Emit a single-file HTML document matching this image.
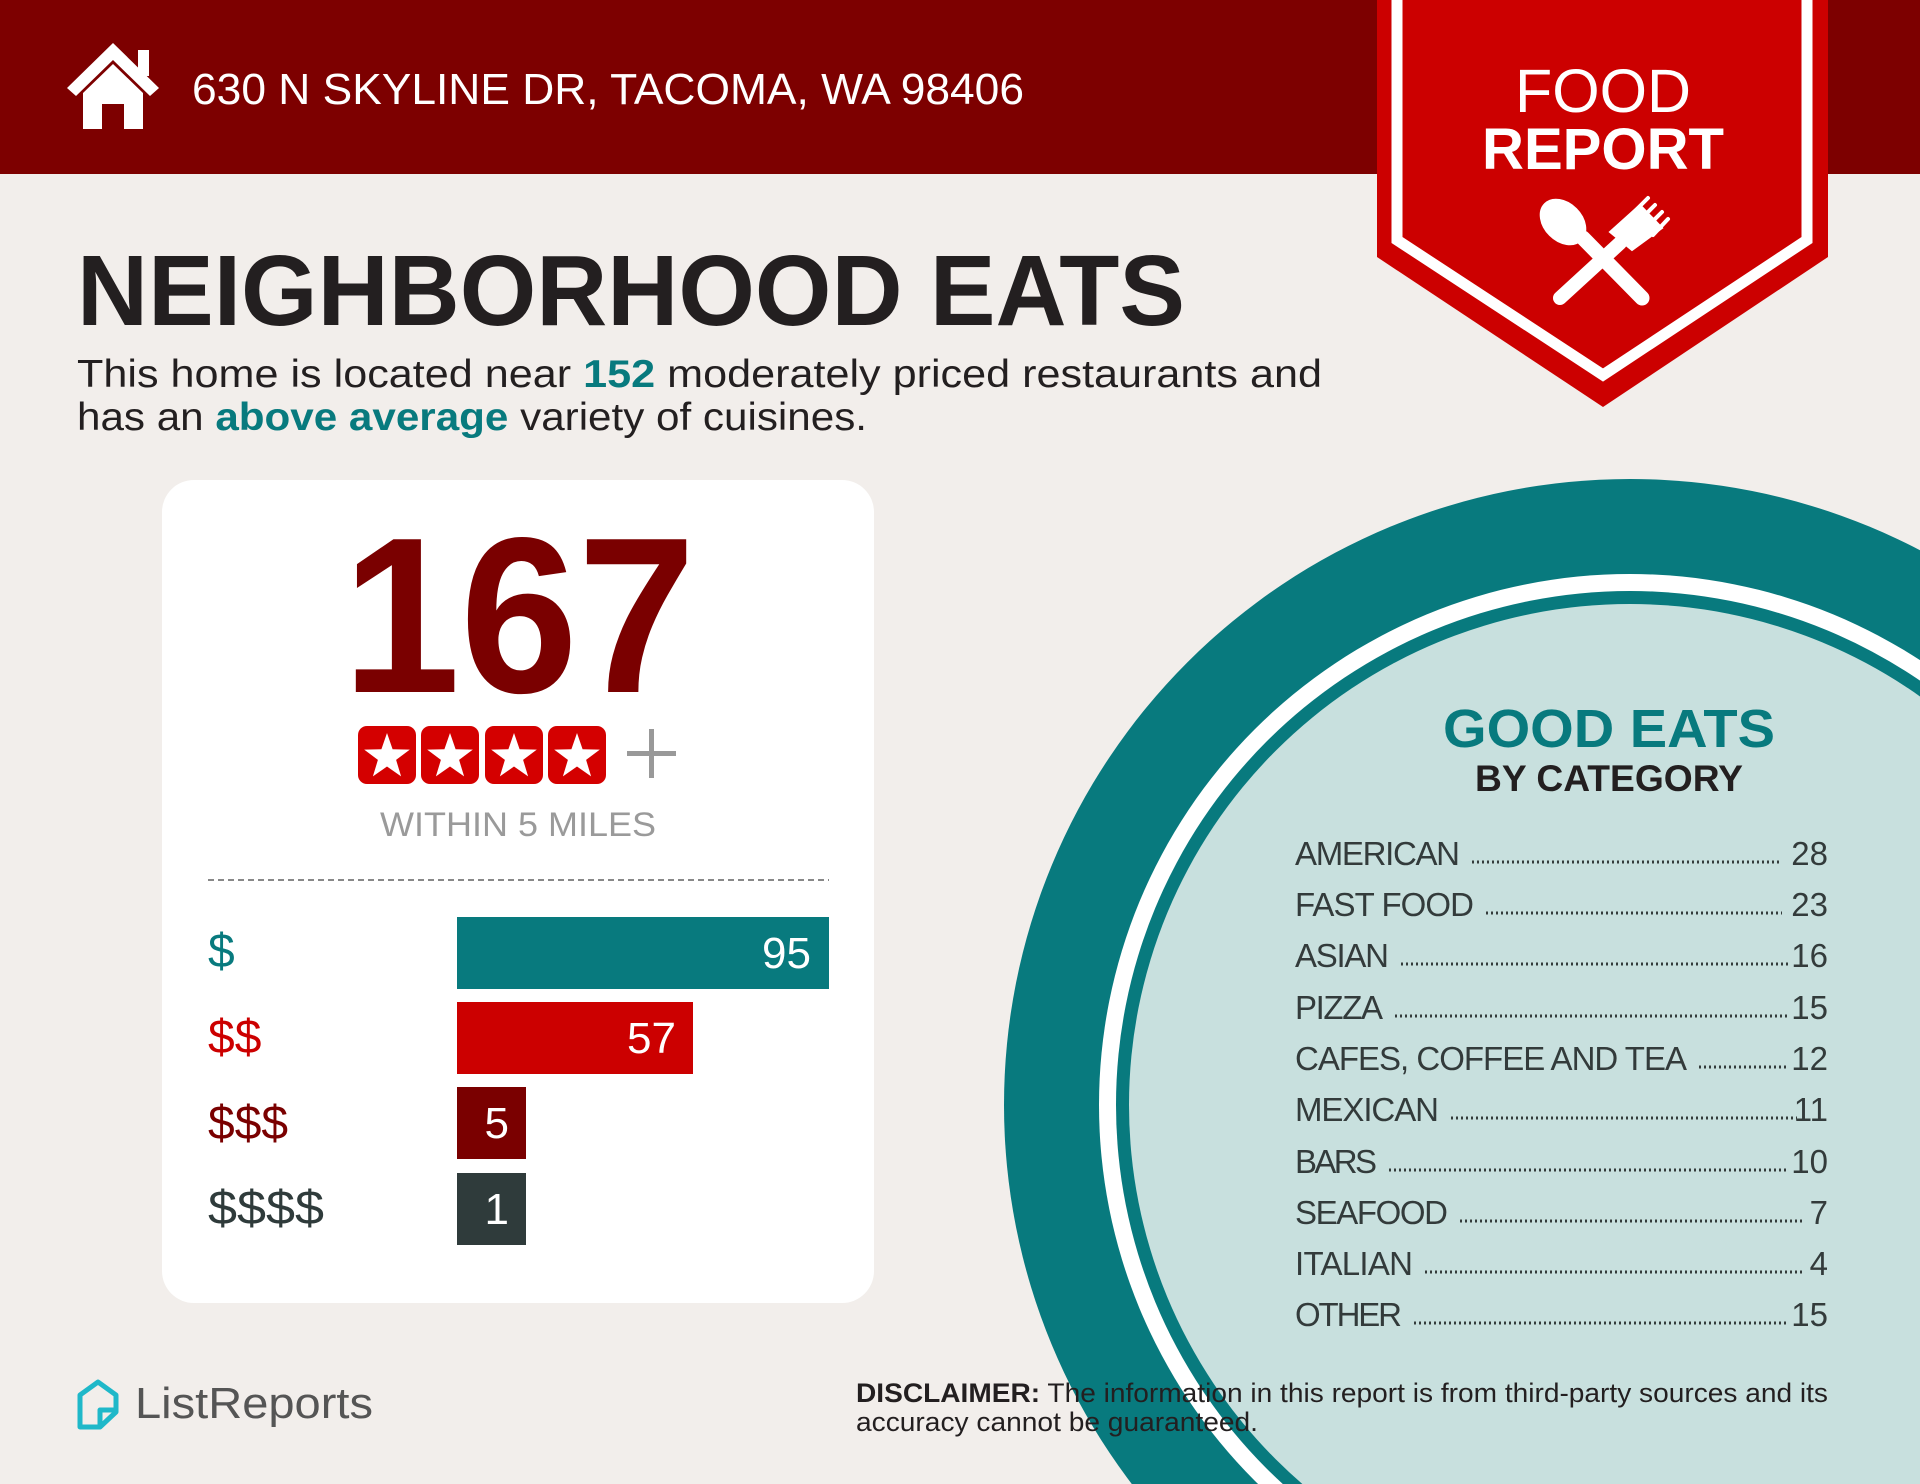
<!DOCTYPE html>
<html><head><meta charset="utf-8"><style>
html,body{margin:0;padding:0;background:#f2eeeb;width:1920px;height:1484px;overflow:hidden;}
svg{display:block;overflow:hidden;}
text{font-family:"Liberation Sans",sans-serif;}
</style></head><body>
<svg width="1920" height="1484" viewBox="0 0 1920 1484" overflow="hidden" xmlns="http://www.w3.org/2000/svg">
<defs><clipPath id="pg"><rect x="0" y="0" width="1920" height="1484"/></clipPath></defs>
<rect x="0" y="0" width="1920" height="1484" fill="#f2eeeb"/>
<g clip-path="url(#pg)">
<circle cx="1630" cy="1105" r="626" fill="#087a7e"/>
<circle cx="1630" cy="1105" r="531" fill="#ffffff"/>
<circle cx="1630" cy="1105" r="514" fill="#087a7e"/>
<circle cx="1630" cy="1105" r="501" fill="#c8e0de"/>
</g>
<rect x="0" y="0" width="1920" height="174" fill="#7d0000"/>
<g fill="#ffffff">
<polygon points="113,43 67,88 76,96 113,60 150,96 159,88"/>
<rect x="138" y="50" width="11" height="26"/>
<path d="M83,93 L113,64 L143,93 L143,129 L124,129 L124,104 L102,104 L102,129 L83,129 Z"/>
</g>
<text x="192" y="104" font-size="44" fill="#ffffff" textLength="832" lengthAdjust="spacingAndGlyphs">630 N SKYLINE DR, TACOMA, WA 98406</text>
<polygon points="1377,0 1828,0 1828,257 1603,407 1377,257" fill="#cc0000"/>
<polyline points="1397,0 1397,240 1603,375 1807,240 1807,0" fill="none" stroke="#ffffff" stroke-width="11"/>
<text x="1603" y="112" font-size="61" fill="#ffffff" text-anchor="middle" textLength="176" lengthAdjust="spacingAndGlyphs">FOOD</text>
<text x="1603" y="169" font-size="58" font-weight="bold" fill="#ffffff" text-anchor="middle" textLength="242" lengthAdjust="spacingAndGlyphs">REPORT</text>
<g stroke="#ffffff" stroke-linecap="round" fill="#ffffff">
<line x1="1642" y1="298" x2="1583" y2="238" stroke-width="15"/>
<ellipse cx="1563" cy="222" rx="19" ry="26" transform="rotate(-45 1563 222)"/>
<line x1="1560" y1="298" x2="1620" y2="243" stroke-width="14"/>
<path d="M1610,232 L1640,205 L1662,228 L1632,250 Z" stroke-width="2"/>
<line x1="1632" y1="214" x2="1648" y2="198" stroke-width="4"/>
<line x1="1639" y1="221" x2="1655" y2="205" stroke-width="4"/>
<line x1="1646" y1="228" x2="1662" y2="212" stroke-width="4"/>
<line x1="1653" y1="235" x2="1668" y2="219" stroke-width="4"/>
</g>
<text x="77" y="325" font-size="100" font-weight="bold" fill="#231f20" textLength="1108" lengthAdjust="spacingAndGlyphs">NEIGHBORHOOD EATS</text>
<text x="77" y="387" font-size="39" fill="#231f20" textLength="1245" lengthAdjust="spacingAndGlyphs">This home is located near <tspan fill="#087a7e" font-weight="bold">152</tspan> moderately priced restaurants and</text>
<text x="77" y="430" font-size="39" fill="#231f20" textLength="790" lengthAdjust="spacingAndGlyphs">has an <tspan fill="#087a7e" font-weight="bold">above average</tspan> variety of cuisines.</text>
<rect x="162" y="480" width="712" height="823" rx="32" fill="#ffffff"/>
<text x="519" y="692" font-size="222" font-weight="bold" fill="#7a0000" text-anchor="middle" textLength="353" lengthAdjust="spacingAndGlyphs">167</text>
<g>
<rect x="358" y="726" width="58" height="58" rx="9" fill="#d40000"/>
<rect x="421" y="726" width="58" height="58" rx="9" fill="#d40000"/>
<rect x="485" y="726" width="58" height="58" rx="9" fill="#d40000"/>
<rect x="548" y="726" width="58" height="58" rx="9" fill="#d40000"/>
<g fill="#ffffff">
<polygon transform="translate(387,757)" points="0,-24 5.6,-7.7 22.8,-7.4 9.1,2.9 14.1,19.4 0,9.5 -14.1,19.4 -9.1,2.9 -22.8,-7.4 -5.6,-7.7"/>
<polygon transform="translate(450,757)" points="0,-24 5.6,-7.7 22.8,-7.4 9.1,2.9 14.1,19.4 0,9.5 -14.1,19.4 -9.1,2.9 -22.8,-7.4 -5.6,-7.7"/>
<polygon transform="translate(514,757)" points="0,-24 5.6,-7.7 22.8,-7.4 9.1,2.9 14.1,19.4 0,9.5 -14.1,19.4 -9.1,2.9 -22.8,-7.4 -5.6,-7.7"/>
<polygon transform="translate(577,757)" points="0,-24 5.6,-7.7 22.8,-7.4 9.1,2.9 14.1,19.4 0,9.5 -14.1,19.4 -9.1,2.9 -22.8,-7.4 -5.6,-7.7"/>
</g>
<rect x="627" y="751" width="49" height="5" fill="#999"/>
<rect x="649" y="729" width="5" height="49" fill="#999"/>
</g>
<text x="518" y="836" font-size="34" fill="#9a9a9a" text-anchor="middle" textLength="276" lengthAdjust="spacingAndGlyphs">WITHIN 5 MILES</text>
<line x1="208" y1="880" x2="829" y2="880" stroke="#888" stroke-width="2" stroke-dasharray="6,4"/>
<text x="208" y="967" font-size="48" fill="#087a7e">$</text>
<text x="208" y="1053" font-size="48" fill="#cc0000">$$</text>
<text x="208" y="1139" font-size="48" fill="#7a0000">$$$</text>
<text x="208" y="1224" font-size="48" fill="#2f3b3b" textLength="116" lengthAdjust="spacingAndGlyphs">$$$$</text>
<rect x="457" y="917" width="372" height="72" fill="#087a7e"/>
<rect x="457" y="1002" width="236" height="72" fill="#cc0000"/>
<rect x="457" y="1087" width="69" height="72" fill="#7a0000"/>
<rect x="457" y="1173" width="69" height="72" fill="#2f3b3b"/>
<g font-size="44" fill="#ffffff" text-anchor="end">
<text x="811" y="968">95</text>
<text x="676" y="1053">57</text>
<text x="509" y="1138">5</text>
<text x="509" y="1224">1</text>
</g>
<text x="1609" y="747" font-size="54" font-weight="bold" fill="#087a7e" text-anchor="middle" textLength="332" lengthAdjust="spacingAndGlyphs">GOOD EATS</text>
<text x="1609" y="791" font-size="37" font-weight="bold" fill="#231f20" text-anchor="middle" textLength="268" lengthAdjust="spacingAndGlyphs">BY CATEGORY</text>
<g font-size="33" fill="#333b3b" lengthAdjust="spacingAndGlyphs">
<text x="1295" y="865" textLength="165">AMERICAN</text><text x="1828" y="865" text-anchor="end">28</text>
<text x="1295" y="916" textLength="179">FAST FOOD</text><text x="1828" y="916" text-anchor="end">23</text>
<text x="1295" y="967" textLength="94">ASIAN</text><text x="1828" y="967" text-anchor="end">16</text>
<text x="1295" y="1019" textLength="88">PIZZA</text><text x="1828" y="1019" text-anchor="end">15</text>
<text x="1295" y="1070" textLength="392">CAFES, COFFEE AND TEA</text><text x="1828" y="1070" text-anchor="end">12</text>
<text x="1295" y="1121" textLength="144">MEXICAN</text><text x="1828" y="1121" text-anchor="end">11</text>
<text x="1295" y="1173" textLength="82">BARS</text><text x="1828" y="1173" text-anchor="end">10</text>
<text x="1295" y="1224" textLength="153">SEAFOOD</text><text x="1828" y="1224" text-anchor="end">7</text>
<text x="1295" y="1275" textLength="118">ITALIAN</text><text x="1828" y="1275" text-anchor="end">4</text>
<text x="1295" y="1326" textLength="107">OTHER</text><text x="1828" y="1326" text-anchor="end">15</text>
</g>
<g stroke="#333b3b" stroke-width="3" stroke-dasharray="2,3">
<line x1="1472" y1="862" x2="1780" y2="862"/>
<line x1="1486" y1="913" x2="1782" y2="913"/>
<line x1="1401" y1="964" x2="1788" y2="964"/>
<line x1="1395" y1="1016" x2="1788" y2="1016"/>
<line x1="1699" y1="1067" x2="1788" y2="1067"/>
<line x1="1451" y1="1118" x2="1797" y2="1118"/>
<line x1="1389" y1="1170" x2="1788" y2="1170"/>
<line x1="1460" y1="1221" x2="1803" y2="1221"/>
<line x1="1425" y1="1272" x2="1803" y2="1272"/>
<line x1="1414" y1="1323" x2="1788" y2="1323"/>
</g>
<path d="M80,1395 L98,1382 L116,1395 L116,1412 L100,1427 L80,1427 Z" fill="none" stroke="#1fb8c9" stroke-width="5" stroke-linejoin="round"/>
<path d="M100,1427 L100,1410 L116,1410" fill="none" stroke="#1fb8c9" stroke-width="5" stroke-linejoin="round"/>
<text x="135" y="1418" font-size="44" fill="#555555" textLength="238" lengthAdjust="spacingAndGlyphs">ListReports</text>
<text x="856" y="1402" font-size="27" fill="#231f20" textLength="972" lengthAdjust="spacingAndGlyphs"><tspan font-weight="bold">DISCLAIMER:</tspan> The information in this report is from third-party sources and its</text>
<text x="856" y="1431" font-size="27" fill="#231f20" textLength="402" lengthAdjust="spacingAndGlyphs">accuracy cannot be guaranteed.</text>
</svg>
</body></html>
